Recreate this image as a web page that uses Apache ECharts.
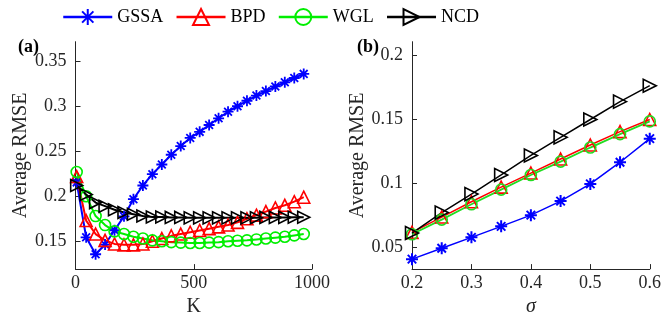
<!DOCTYPE html>
<html>
<head>
<meta charset="utf-8">
<script src="https://cdn.jsdelivr.net/npm/echarts@6/dist/echarts.min.js"></script>
<style>
html,body{margin:0;padding:0;background:#fff;}
#c{width:664px;height:322px;}
</style>
</head>
<body>
<div id="c"></div>
<script>
// ---- data ----
const kValues = [5,45,85,125,165,205,245,285,325,365,405,445,485,525,565,605,645,685,725,765,805,845,885,925,965];
const gssaA = [0.2155,0.1544,0.1355,0.1463,0.1622,0.1777,0.1968,0.212,0.2246,0.2354,0.2462,0.2559,0.2649,0.2717,0.2793,0.2868,0.2941,0.3002,0.3063,0.3121,0.3171,0.3222,0.3268,0.3316,0.3362];
const bpdA  = [0.222,0.173,0.158,0.151,0.147,0.146,0.146,0.147,0.150,0.153,0.156,0.158,0.160,0.162,0.164,0.166,0.168,0.171,0.175,0.179,0.183,0.187,0.190,0.194,0.199];
const wglA  = [0.227,0.200,0.178,0.168,0.161,0.158,0.155,0.153,0.151,0.150,0.149,0.1485,0.148,0.148,0.1485,0.149,0.150,0.1505,0.151,0.152,0.153,0.154,0.155,0.1565,0.158];
const ncdA  = [0.212,0.202,0.193,0.189,0.185,0.182,0.180,0.178,0.177,0.177,0.1765,0.1765,0.176,0.176,0.176,0.176,0.176,0.176,0.176,0.1762,0.1765,0.1765,0.1765,0.1767,0.1767];

const sigma = [0.2,0.25,0.3,0.35,0.4,0.45,0.5,0.55,0.6];
const gssaB = [0.0405,0.049,0.0576,0.0662,0.075,0.086,0.0995,0.1165,0.135];
const bpdB  = [0.0615,0.0735,0.0855,0.097,0.108,0.119,0.130,0.1405,0.150];
const wglB  = [0.060,0.0715,0.0835,0.095,0.1065,0.117,0.128,0.1385,0.1485];
const ncdB  = [0.061,0.077,0.0915,0.1065,0.1218,0.136,0.150,0.164,0.1765];

const xTicksA = [0,500,1000];
const yTicksA = [0.15,0.2,0.25,0.3,0.35];
const xTicksB = [0.2,0.3,0.4,0.5,0.6];
const yTicksB = [0.05,0.1,0.15,0.2];

const seriesNames = ['GSSA','BPD','WGL','NCD'];

// ---- styling ----
const FONT = 'Liberation Serif';
const AX = '#262626';
const ASTERISK = 'path://M10,0L10,20M0,10L20,10M2.93,2.93L17.07,17.07M17.07,2.93L2.93,17.07';

function pairs(xs, ys){ return xs.map((x,i)=>[x, ys[i]]); }
function fmt(v){ return String(+(+v).toFixed(3)); }

function mk(name, xs, ys, idx, color, symbol, size, rotate, lw, bw){
  return {
    name: name, type: 'line', xAxisIndex: idx, yAxisIndex: idx,
    data: pairs(xs, ys),
    symbol: symbol, symbolSize: size, symbolRotate: rotate || 0,
    showAllSymbol: true,
    lineStyle: {color: color, width: lw},
    itemStyle: {color: 'rgba(0,0,0,0)', borderColor: color, borderWidth: bw || 1.6},
    emphasis: {disabled: true},
    z: 2
  };
}

function xAxis(idx, min, max, ticks, name, italic){
  return {
    type: 'value', gridIndex: idx, min: min, max: max,
    name: name, nameLocation: 'middle', nameGap: 21,
    nameTextStyle: {fontFamily: FONT, fontSize: 20, color: AX, fontStyle: italic ? 'italic' : 'normal'},
    axisLine: {show: true, lineStyle: {color: AX, width: 1}},
    axisTick: {show: true, inside: true, length: 5, lineStyle: {color: AX}, customValues: ticks},
    axisLabel: {fontFamily: FONT, fontSize: 18, color: AX, margin: 5, customValues: ticks, formatter: fmt},
    splitLine: {show: false}
  };
}
function yAxis(idx, min, max, ticks, gap){
  return {
    type: 'value', gridIndex: idx, min: min, max: max,
    name: 'Average RMSE', nameLocation: 'middle', nameGap: gap,
    nameTextStyle: {fontFamily: FONT, fontSize: 20, color: AX},
    axisLine: {show: true, lineStyle: {color: AX, width: 1}},
    axisTick: {show: true, inside: true, length: 5, lineStyle: {color: AX}, customValues: ticks},
    axisLabel: {fontFamily: FONT, fontSize: 18, color: AX, margin: 9, customValues: ticks, formatter: fmt},
    splitLine: {show: false}
  };
}

const chart = echarts.init(document.getElementById('c'), null, {renderer: 'canvas'});
chart.setOption({
  animation: false,
  backgroundColor: '#fff',
  textStyle: {fontFamily: FONT},
  title: [
    {text: '(a)', left: 13, top: 33, textStyle: {fontFamily: FONT, fontSize: 18, fontWeight: 'bold', color: '#000'}},
    {text: '(b)', left: 352, top: 33, textStyle: {fontFamily: FONT, fontSize: 18, fontWeight: 'bold', color: '#000'}}
  ],
  legend: {
    top: 3, left: 57, itemWidth: 49, itemHeight: 20, itemGap: 12,
    lineStyle: {width: 2.5},
    textStyle: {fontFamily: FONT, fontSize: 18, color: '#000'},
    data: seriesNames
  },
  grid: [
    {left: 75.5, top: 41.7, width: 236.5, height: 234.3},
    {left: 412, top: 41.7, width: 238, height: 234.3}
  ],
  xAxis: [
    xAxis(0, 0, 1000, xTicksA, 'K', false),
    xAxis(1, 0.2, 0.6, xTicksB, 'σ', true)
  ],
  yAxis: [
    yAxis(0, 0.119, 0.372, yTicksA, 42),
    yAxis(1, 0.0327, 0.211, yTicksB, 41)
  ],
  series: [
    mk('GSSA', kValues, gssaA, 0, '#0000ff', ASTERISK, 11, 0, 2, 1.8),
    mk('BPD',  kValues, bpdA,  0, '#ff0000', 'triangle', 12, 0, 2, 1.6),
    mk('WGL',  kValues, wglA,  0, '#00ee00', 'circle', 11, 0, 2, 1.6),
    mk('NCD',  kValues, ncdA,  0, '#000000', 'triangle', 12, -90, 2, 1.6),
    mk('GSSA', sigma, gssaB, 1, '#0000ff', ASTERISK, 12, 0, 1.5, 2),
    mk('BPD',  sigma, bpdB,  1, '#ff0000', 'triangle', 12, 0, 1.5, 1.6),
    mk('WGL',  sigma, wglB,  1, '#22dd22', 'circle', 11, 0, 1.8, 1.6),
    mk('NCD',  sigma, ncdB,  1, '#000000', 'triangle', 13, -90, 1.5, 1.6)
  ]
});
</script>
</body>
</html>
